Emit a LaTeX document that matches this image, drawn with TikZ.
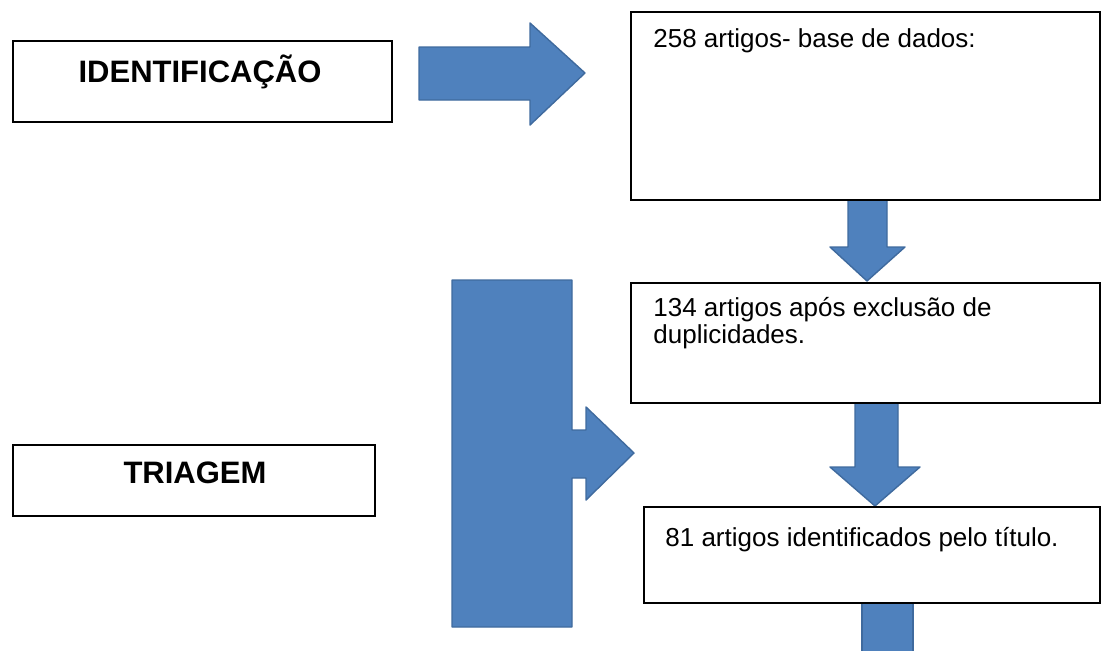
\documentclass[tikz,border=0pt]{standalone}
\usepackage{fontspec}
\setmainfont{Liberation Sans}
\usetikzlibrary{fit}
\definecolor{arrowblue}{HTML}{4F81BD}
\definecolor{arrowedge}{HTML}{3F6A9E}
\begin{document}
\begin{tikzpicture}[x=0.5pt,y=-0.5pt,
  box/.style={draw=black, line width=1pt, fill=white, inner sep=0pt},
  blockarrow/.style={fill=arrowblue, draw=arrowedge, line width=0.7pt, line join=round},
  titletxt/.style={font=\fontsize{15.5}{18}\selectfont\bfseries, inner sep=0pt, anchor=base},
  bodytxt/.style={font=\fontsize{13}{13.5}\selectfont, inner sep=0pt, anchor=base west, align=left}]
\useasboundingbox (0,0) rectangle (1104,650);

% block arrows
\path[blockarrow] (419,47) -- (530,47) -- (530,23) -- (585,73) -- (530,125) -- (530,100) -- (419,100) -- cycle;
\path[blockarrow] (848,196) -- (887,196) -- (887,247) -- (905,247) -- (867,281) -- (830,247) -- (848,247) -- cycle;
\path[blockarrow] (855,403) -- (898,403) -- (898,467) -- (920,467) -- (875,506) -- (830,467) -- (855,467) -- cycle;
\path[blockarrow] (862,600) -- (913,600) -- (913,652) -- (862,652) -- cycle;
\path[blockarrow] (452,280) -- (572,280) -- (572,430) -- (586,430) -- (586,407) -- (634,453) -- (586,500) -- (586,478) -- (572,478) -- (572,627) -- (452,627) -- cycle;

% boxes
\node[box, fit={(13,41) (392,122)}] (idbox) {};
\node[box, fit={(13,445) (375,516)}] (trbox) {};
\node[box, fit={(631,12) (1100,200)}] (b1) {};
\node[box, fit={(631,283) (1100,403)}] (b2) {};
\node[box, fit={(644,507) (1100,603)}] (b3) {};

% texts
\node[titletxt] (idtxt) at (200,82) {IDENTIFICAÇÃO};
\node[titletxt] (trtxt) at (195,483) {TRIAGEM};
\node[bodytxt] (t1) at (653,47) {258 artigos- base de dados:};
\node[bodytxt] (t2) at (653,343) {134 artigos após exclusão de\\duplicidades.};
\node[bodytxt] (t3) at (665,546) {81 artigos identificados pelo título.};
\end{tikzpicture}
\end{document}
